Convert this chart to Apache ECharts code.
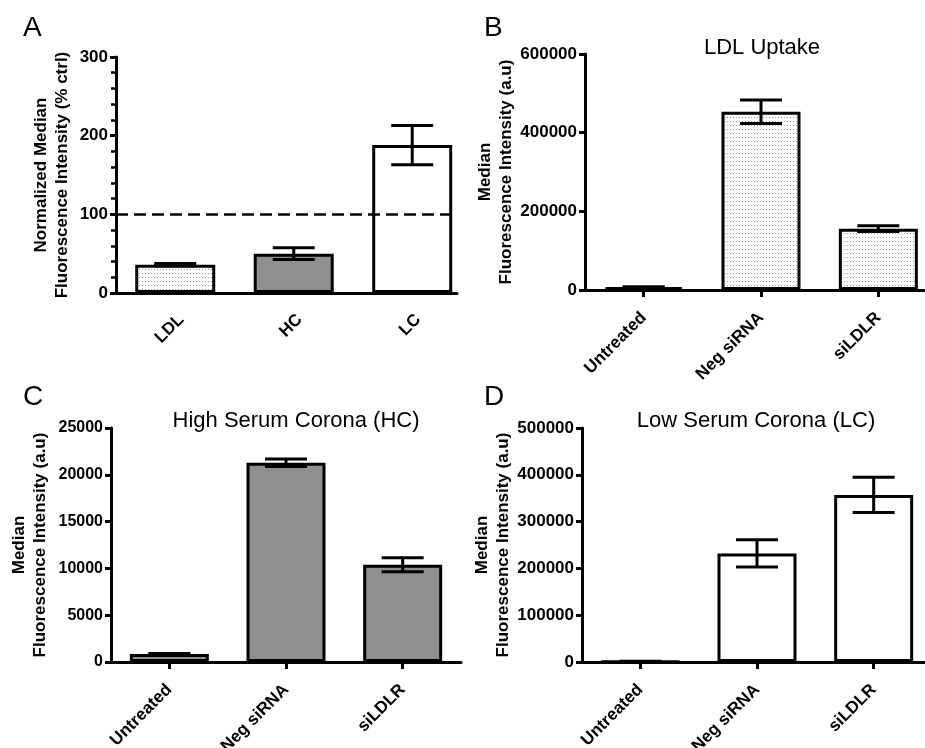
<!DOCTYPE html>
<html><head><meta charset="utf-8">
<script src="https://cdn.jsdelivr.net/npm/echarts@6/dist/echarts.min.js"></script>
<style>html,body{margin:0;padding:0;background:#fff}#c{width:925px;height:748px}</style>
</head><body><div id="c"></div>
<script>
// ---- data ----
const catsA = ['LDL', 'HC', 'LC'];
const valsA = [36, 50, 188];
const errA = [1.5, 7.5, 25];
const refLineA = 100;
const ticksA = { max: 300, interval: 100 };

const catsBCD = ['Untreated', 'Neg siRNA', 'siLDLR'];
const valsB = [7000, 453000, 156000];
const errB = [1500, 30000, 7500];
const ticksB = { max: 600000, interval: 200000 };

const valsC = [850, 21300, 10400];
const errC = [60, 400, 750];
const ticksC = { max: 25000, interval: 5000 };

const valsD = [1500, 232000, 357000];
const errD = [300, 29000, 37500];
const ticksD = { max: 500000, interval: 100000 };

// ---- styles ----
const FONT = '"Liberation Sans", Arial, sans-serif';
const GRAY = '#8f8f8f';
function dotPattern() {
  const c = document.createElement('canvas');
  c.width = 3; c.height = 4;
  const g = c.getContext('2d');
  g.fillStyle = '#fff'; g.fillRect(0, 0, 3, 4);
  g.fillStyle = '#9a9a9a'; g.fillRect(1, 1, 1, 1);
  return { image: c, repeat: 'repeat' };
}
const DOTS = dotPattern();

const chart = echarts.init(document.getElementById('c'), null, { renderer: 'canvas' });

const gridBase = { containLabel: false, outerBoundsMode: 'none' };
const grids = [
  Object.assign({ left: 116, top: 57, width: 341, height: 236 }, gridBase),
  Object.assign({ left: 585, top: 54, width: 352, height: 236 }, gridBase),
  Object.assign({ left: 111, top: 428, width: 350, height: 234 }, gridBase),
  Object.assign({ left: 582, top: 428, width: 350, height: 234 }, gridBase)
];

const axisLineStyle = { color: '#000', width: 3 };
const labelStyle = { color: '#000', fontWeight: 'bold', fontSize: 17, fontFamily: FONT };

function yAxis(idx, t, nameText, gap, minor, fs) {
  return {
    type: 'value', gridIndex: idx, min: 0, max: t.max, interval: t.interval,
    name: nameText, nameLocation: 'middle', nameGap: gap, nameRotate: 90,
    nameTextStyle: { color: '#000', fontWeight: 'bold', fontSize: 17, fontFamily: FONT, lineHeight: 21 },
    axisLine: { show: true, onZero: false, lineStyle: axisLineStyle },
    axisTick: { show: true, length: 6, lineStyle: { color: '#000', width: 3 } },
    minorTick: { show: !!minor, splitNumber: 5, length: 5, lineStyle: { color: '#000', width: 2.5 } },
    splitLine: { show: false },
    axisLabel: Object.assign({ margin: 8, formatter: function (v) { return String(v); } }, labelStyle, fs ? { fontSize: fs } : {})
  };
}
function catX(idx) {
  return {
    type: 'category', gridIndex: idx, data: catsBCD,
    axisLine: { show: true, onZero: false, lineStyle: axisLineStyle },
    axisTick: { show: true, alignWithLabel: true, length: 7, lineStyle: { color: '#000', width: 3 } },
    axisLabel: Object.assign({ rotate: 45, margin: 25, interval: 0 }, labelStyle)
  };
}

function barSeries(idx, vals, colors) {
  return {
    type: 'bar', xAxisIndex: idx, yAxisIndex: idx, barWidth: 79,
    data: vals.map((v, i) => ({ value: idx === 0 ? [i, v] : v, itemStyle: { color: colors[i] } })),
    itemStyle: { borderColor: '#000', borderWidth: 3 },
    silent: true, z: 2
  };
}
function errSeries(idx, vals, errs) {
  return {
    type: 'custom', xAxisIndex: idx, yAxisIndex: idx, clip: false, z: 5, silent: true,
    data: vals.map((v, i) => [i, v, errs[i]]),
    renderItem: function (params, api) {
      const x = api.value(0), y = api.value(1), e = api.value(2);
      const top = api.coord([x, y + e]);
      const bot = api.coord([x, y - e]);
      const hw = 21;
      const st = { stroke: '#000', lineWidth: 3, fill: null };
      return {
        type: 'group', children: [
          { type: 'line', shape: { x1: top[0], y1: top[1], x2: bot[0], y2: bot[1] }, style: st },
          { type: 'line', shape: { x1: top[0] - hw, y1: top[1], x2: top[0] + hw, y2: top[1] }, style: st },
          { type: 'line', shape: { x1: bot[0] - hw, y1: bot[1], x2: bot[0] + hw, y2: bot[1] }, style: st }
        ]
      };
    }
  };
}

const barA = barSeries(0, valsA, [DOTS, GRAY, '#fff']);
barA.barWidth = 80;
barA.markLine = {
  silent: true, symbol: 'none', label: { show: false },
  lineStyle: { type: [12, 6], width: 2.5, color: '#000' },
  data: [{ yAxis: refLineA }]
};

function txt(text, x, y, size, align) {
  return { type: 'text', x: x, y: y, silent: true,
    style: { text: text, fill: '#000', font: 'normal ' + size + 'px ' + FONT, textAlign: align, textVerticalAlign: 'middle' } };
}

chart.setOption({
  animation: false,
  grid: grids,
  xAxis: [
    {
      type: 'value', gridIndex: 0, min: -0.5, max: 2.378, interval: 0.5,
      axisLine: { show: true, onZero: false, lineStyle: axisLineStyle },
      axisTick: { show: false }, splitLine: { show: false },
      axisLabel: Object.assign({
        rotate: 45, margin: 18, verticalAlign: 'top', showMaxLabel: false, showMinLabel: false,
        formatter: function (v) {
          const r = Math.round(v);
          return Math.abs(v - r) < 1e-6 && r >= 0 && r < catsA.length ? catsA[r] : '';
        }
      }, labelStyle)
    },
    catX(1), catX(2), catX(3)
  ],
  yAxis: [
    yAxis(0, ticksA, 'Normalized Median\nFluorescence Intensity (% ctrl)', 43, true),
    yAxis(1, ticksB, 'Median\nFluorescence Intensity (a.u)', 61, false),
    yAxis(2, ticksC, 'Median\nFluorescence Intensity (a.u)', 60, false, 16),
    yAxis(3, ticksD, 'Median\nFluorescence Intensity (a.u)', 55, false)
  ],
  series: [
    barA, errSeries(0, valsA, errA),
    barSeries(1, valsB, [DOTS, DOTS, DOTS]), errSeries(1, valsB, errB),
    barSeries(2, valsC, [GRAY, GRAY, GRAY]), errSeries(2, valsC, errC),
    barSeries(3, valsD, ['#fff', '#fff', '#fff']), errSeries(3, valsD, errD)
  ],
  graphic: [
    txt('A', 23, 28, 28, 'left'),
    txt('B', 484, 28, 28, 'left'),
    txt('C', 23, 397, 28, 'left'),
    txt('D', 484, 397, 28, 'left'),
    txt('LDL Uptake', 762, 48, 22, 'center'),
    txt('High Serum Corona (HC)', 296, 421, 22, 'center'),
    txt('Low Serum Corona (LC)', 756, 421, 22, 'center')
  ]
});
</script>
</body></html>
